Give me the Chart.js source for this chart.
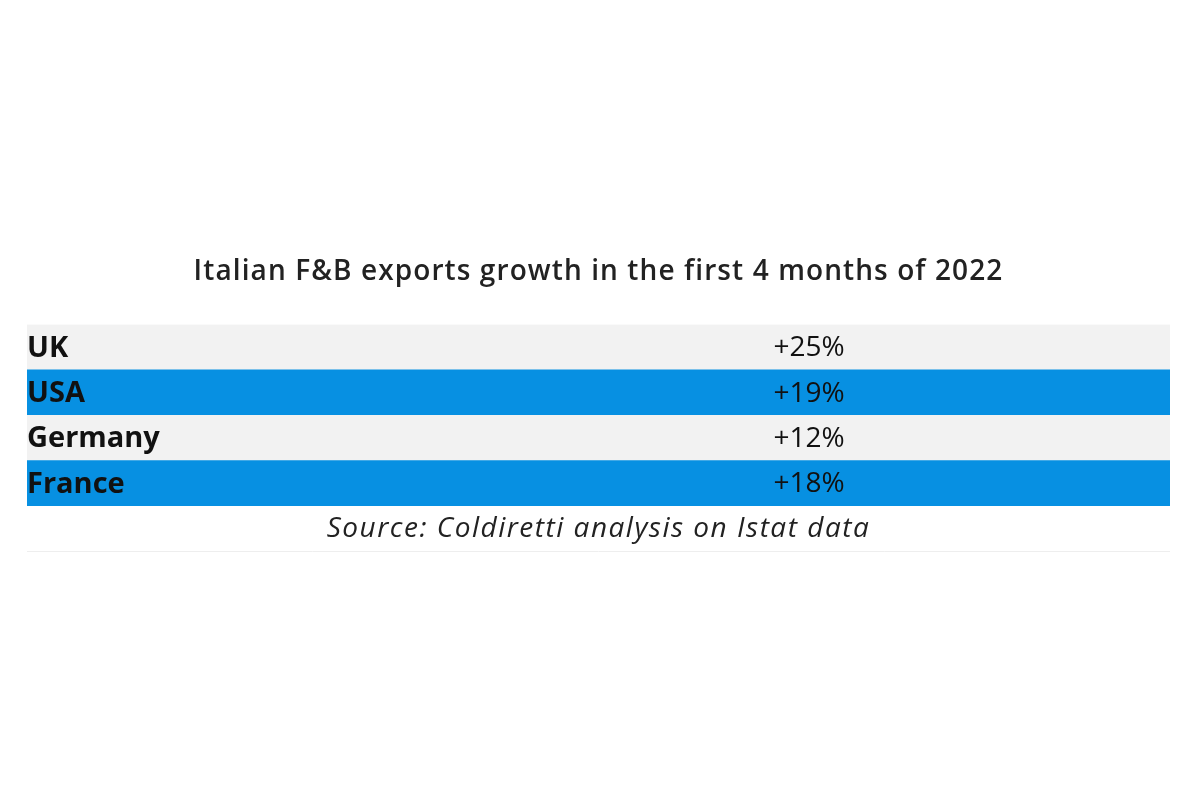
<!DOCTYPE html>
<html>
<head>
<meta charset="utf-8">
<script src="https://cdn.jsdelivr.net/npm/chart.js@4.4.0/dist/chart.umd.min.js"></script>
<style>
    html, body { margin: 0; padding: 0; background: #fff; }
    #wrap { width: 1200px; height: 800px; }
</style>
</head>
<body>
<div id="wrap"><canvas id="chartExports"></canvas></div>
<script>
var countries = ["UK", "USA", "Germany", "France"];
var growth = [25, 19, 12, 18];
var rowColors = ["#f2f2f2", "#0790e2", "#f2f2f2", "#0790e2"];
var titleText = "Italian F&B exports growth in the first 4 months of 2022";
var sourceText = "Source: Coldiretti analysis on Istat data";

var fontFamily = "'Open Sans', sans-serif";
var valueColumn = 0.653; // where the value column starts, as share of the table width

// each row is a band across the whole table
var rowBands = countries.map(function () {
    return [0, 1];
});

var tableText = {
    id: "tableText",
    beforeDraw: function (chart) {
        // the original font is wider, so spread the title a little
        chart.ctx.letterSpacing = "1.1px";
    },
    beforeDatasetsDraw: function (chart) {
        chart.ctx.letterSpacing = "0px";
    },
    afterDatasetsDraw: function (chart) {
        var ctx = chart.ctx;
        var area = chart.chartArea;
        var xScale = chart.scales.x;
        var yScale = chart.scales.y;
        ctx.save();
        ctx.letterSpacing = "0px";
        ctx.textBaseline = "middle";
        ctx.fillStyle = "#111";
        countries.forEach(function (name, i) {
            var y = yScale.getPixelForValue(i) + 1;
            ctx.textAlign = "left";
            ctx.font = "bold 29px " + fontFamily;
            ctx.fillText(name, area.left, y);
            ctx.font = "28px " + fontFamily;
            ctx.fillText("+" + growth[i] + "%", xScale.getPixelForValue(valueColumn), y);
        });
        // source row under the table
        ctx.textAlign = "center";
        ctx.font = "italic 28px " + fontFamily;
        ctx.letterSpacing = "1.5px";
        ctx.fillStyle = "#222";
        ctx.fillText(sourceText, (area.left + area.right) / 2, area.bottom + 23);
        ctx.strokeStyle = "#eeeeee";
        ctx.lineWidth = 1;
        ctx.beginPath();
        ctx.moveTo(area.left, area.bottom + 45.5);
        ctx.lineTo(area.right, area.bottom + 45.5);
        ctx.stroke();
        ctx.restore();
    },
};

var ctx = document.getElementById("chartExports").getContext("2d");

var myChart = new Chart(ctx, {
    type: "bar",
    data: {
        labels: countries,
        datasets: [
            {
                label: "Growth",
                data: rowBands,
                backgroundColor: rowColors,
                borderWidth: 0,
                barPercentage: 1,
                categoryPercentage: 1,
            },
        ],
    },
    options: {
        indexAxis: "y",
        responsive: true,
        maintainAspectRatio: false,
        animation: false,
        layout: {
            padding: { left: 27, right: 30, top: 0, bottom: 294 },
        },
        scales: {
            x: { type: "linear", min: 0, max: 1, display: false },
            y: { display: false },
        },
        plugins: {
            legend: { display: false },
            tooltip: { enabled: false },
            title: {
                display: true,
                text: titleText,
                color: "#222",
                font: { family: fontFamily, size: 28, weight: "600" },
                padding: { top: 255, bottom: 36 },
            },
        },
    },
    plugins: [tableText],
});
</script>
</body>
</html>
